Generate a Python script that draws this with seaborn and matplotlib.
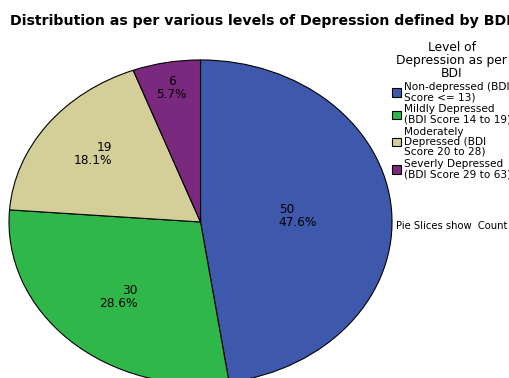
import numpy as np
import matplotlib
matplotlib.use("Agg")
import matplotlib.pyplot as plt
import seaborn as sns

# ---- data ----
categories = [
    "Non-depressed (BDI\nScore <= 13)",
    "Mildly Depressed\n(BDI Score 14 to 19)",
    "Moderately\nDepressed (BDI\nScore 20 to 28)",
    "Severly Depressed\n(BDI Score 29 to 63)",
]
counts = [50, 30, 19, 6]
colors = ["#3E58AC", "#2FB849", "#D4CF98", "#7B297E"]
title = "Distribution as per various levels of Depression defined by BDI"
legend_title = "Level of\nDepression as per\nBDI"
note = "Pie Slices show  Count"

# label radial placement (style)
label_radii = [0.51, 0.63, 0.70, 0.84]

sns.set_theme(style="white")
plt.rcParams["font.family"] = ["DejaVu Sans"]
plt.rcParams["text.color"] = "black"
plt.rcParams["legend.labelcolor"] = "black"

fig = plt.figure(figsize=(5.10, 3.78), dpi=100)
fig.patch.set_facecolor("white")
ax = fig.add_axes([0, 0, 1, 1])

wedges, _ = ax.pie(
    counts,
    colors=colors,
    startangle=90,
    counterclock=False,
    wedgeprops=dict(edgecolor="black", linewidth=0.8),
)
ax.set_aspect("auto")
ax.set_xlim(-1.047, 1.616)
ax.set_ylim(-0.963, 1.370)
ax.axis("off")

total = float(sum(counts))
cum = np.cumsum(counts)
for i, c in enumerate(counts):
    mid = (cum[i] - c / 2.0) / total * 360.0
    ang = np.deg2rad(90.0 - mid)
    x = label_radii[i] * np.cos(ang)
    y = label_radii[i] * np.sin(ang)
    if x > 0.25:
        ma = "left"
    elif x < -0.25:
        ma = "right"
    else:
        ma = "center"
    ax.text(x, y, f"{c}\n{c / total * 100:.1f}%", ha="center", va="center",
            multialignment=ma, fontsize=8.7, color="black", linespacing=0.95)

fig.text(10 / 510, 1 - 21 / 378, title, fontsize=10.2, fontweight="bold",
         ha="left", va="center", color="black")

leg = fig.legend(
    wedges, categories, title=legend_title,
    loc="upper left", bbox_to_anchor=(392 / 510, 1 - 41 / 378),
    frameon=False, fontsize=7.6, title_fontsize=8.8,
    handlelength=0.85, handleheight=0.85, handletextpad=0.3,
    labelspacing=0.2, borderpad=0, borderaxespad=0,
)
leg.get_title().set_multialignment("center")
leg.get_title().set_linespacing(1.0)
leg.get_title().set_color("black")
for t in leg.get_texts():
    t.set_linespacing(1.02)
    t.set_color("black")
for h in leg.legend_handles:
    h.set_edgecolor("black")
    h.set_linewidth(0.8)

fig.text(396 / 510, 1 - 226 / 378, note, fontsize=7.2, ha="left", va="center",
         color="black")

fig.savefig("out.png", dpi=100, facecolor="white")
